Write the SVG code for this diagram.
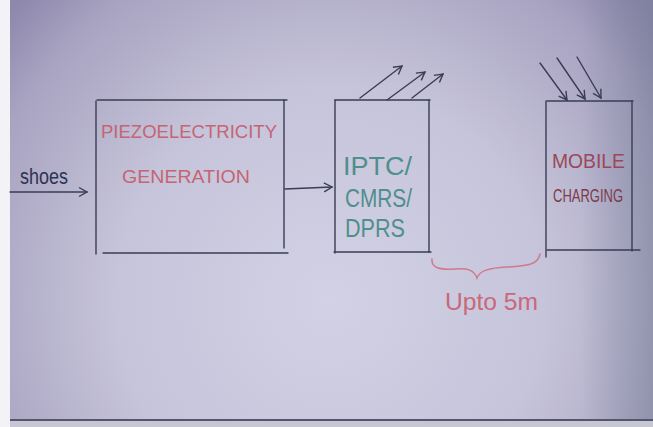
<svg xmlns="http://www.w3.org/2000/svg" width="653" height="427" viewBox="0 0 653 427">
<defs>
<radialGradient id="paper" cx="330" cy="300" r="430" gradientUnits="userSpaceOnUse">
<stop offset="0" stop-color="#d3d1e5"/>
<stop offset="0.5" stop-color="#c6c4da"/>
<stop offset="0.85" stop-color="#a8a3c1"/>
<stop offset="1" stop-color="#8e88ad"/>
</radialGradient>
<linearGradient id="rightShade" x1="580" y1="0" x2="653" y2="0" gradientUnits="userSpaceOnUse">
<stop offset="0" stop-color="#6f7890" stop-opacity="0"/>
<stop offset="1" stop-color="#6f7890" stop-opacity="0.45"/>
</linearGradient>
<marker id="open" viewBox="-10 -6 12 12" refX="0" refY="0" markerWidth="12" markerHeight="12" markerUnits="userSpaceOnUse" orient="auto">
<path d="M-8,-4.5 L0,0 L-8,4.5" fill="none" stroke="#3a3d55" stroke-width="1.4"/>
</marker>
</defs>
<style>
.ink{stroke:#3a3d55;stroke-width:1.4;fill:none;stroke-linecap:round}
.lbl{font-family:"Liberation Sans",Arial,sans-serif;}
.red{fill:#c56572}
.teal{fill:#4f8f8d}
.maroon{fill:#9a4858}
.pink{stroke:#cf7a8a;stroke-width:1.5;fill:none;stroke-linecap:round}
</style>
<rect x="0" y="0" width="653" height="427" fill="url(#paper)"/>
<rect x="0" y="0" width="653" height="427" fill="url(#rightShade)"/>
<rect x="0" y="0" width="10" height="427" fill="#f3f2f6"/>
<rect x="10" y="421" width="643" height="6" fill="#c7c6d3"/>
<line x1="10" y1="420" x2="653" y2="420" stroke="#55566e" stroke-width="2"/>

<g id="shoes-label">
<text class="lbl" x="20" y="184" font-size="22" textLength="48" lengthAdjust="spacingAndGlyphs" fill="#2f3350">shoes</text>
</g>

<g id="box-piezo">
<line class="ink" x1="97" y1="100" x2="287" y2="100"/>
<line class="ink" x1="96" y1="101" x2="96" y2="254"/>
<line class="ink" x1="284" y1="100" x2="284" y2="248"/>
<line class="ink" x1="103" y1="253" x2="288" y2="253"/>
<text class="lbl red" x="101" y="138" font-size="18" textLength="176" lengthAdjust="spacingAndGlyphs">PIEZOELECTRICITY</text>
<text class="lbl red" x="122" y="183" font-size="18" textLength="128" lengthAdjust="spacingAndGlyphs">GENERATION</text>
</g>

<g id="box-iptc">
<line class="ink" x1="335" y1="100" x2="430" y2="100"/>
<line class="ink" x1="335" y1="100" x2="335" y2="253"/>
<line class="ink" x1="429" y1="100" x2="429" y2="252"/>
<line class="ink" x1="334" y1="252" x2="431" y2="252"/>
<text class="lbl teal" x="343" y="175" font-size="25" textLength="69" lengthAdjust="spacingAndGlyphs">IPTC/</text>
<text class="lbl teal" x="345" y="207" font-size="25" textLength="67" lengthAdjust="spacingAndGlyphs">CMRS/</text>
<text class="lbl teal" x="345" y="237" font-size="25" textLength="60" lengthAdjust="spacingAndGlyphs">DPRS</text>
</g>

<g id="box-mobile">
<line class="ink" x1="547" y1="101" x2="633" y2="101"/>
<line class="ink" x1="546" y1="101" x2="546" y2="257"/>
<line class="ink" x1="632" y1="101" x2="632" y2="251"/>
<line class="ink" x1="547" y1="250" x2="640" y2="250"/>
<text class="lbl maroon" x="552" y="168" font-size="20" textLength="73" lengthAdjust="spacingAndGlyphs">MOBILE</text>
<text class="lbl" x="553" y="202" font-size="18" textLength="70" lengthAdjust="spacingAndGlyphs" fill="#7d3a4b">CHARGING</text>
</g>

<g id="connectors">
<line class="ink" x1="10" y1="192" x2="87" y2="192" marker-end="url(#open)"/>
<line class="ink" x1="285" y1="189" x2="332" y2="187" marker-end="url(#open)"/>
<line class="ink" x1="360" y1="98" x2="402" y2="66" marker-end="url(#open)"/>
<line class="ink" x1="387" y1="100" x2="425" y2="72" marker-end="url(#open)"/>
<line class="ink" x1="412" y1="98" x2="443" y2="74" marker-end="url(#open)"/>
<line class="ink" x1="540" y1="63" x2="567" y2="100" marker-end="url(#open)"/>
<line class="ink" x1="557" y1="58" x2="585" y2="99" marker-end="url(#open)"/>
<line class="ink" x1="577" y1="57" x2="601" y2="98" marker-end="url(#open)"/>
</g>

<g id="distance">
<path class="pink" d="M432,259 C431,268 440,270 455,269 C468,268 474,270 477,278 C480,270 490,268 507,267 C527,266 538,265 540,254"/>
<text class="lbl" x="445" y="310" font-size="24" textLength="93" lengthAdjust="spacingAndGlyphs" fill="#c8687a">Upto 5m</text>
</g>
</svg>
